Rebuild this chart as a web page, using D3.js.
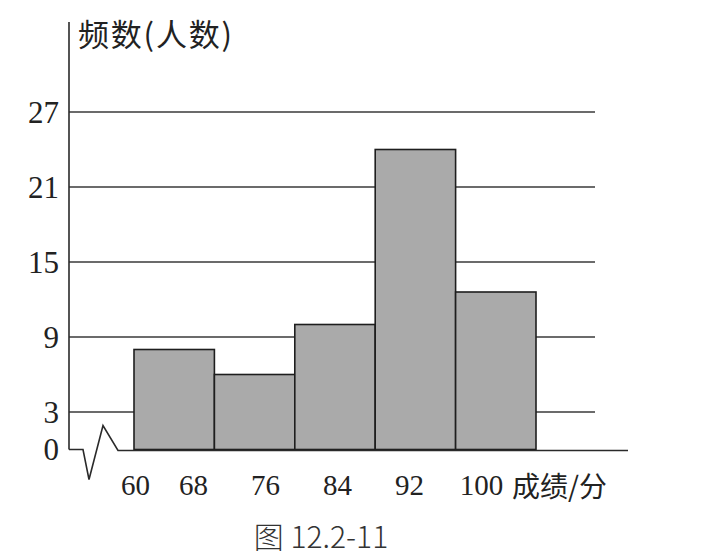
<!DOCTYPE html>
<html>
<head>
<meta charset="utf-8">
<script src="https://cdn.jsdelivr.net/npm/d3@7"></script>
<style>
  html, body { margin: 0; padding: 0; background: #fff; }
  svg { display: block; }
</style>
</head>
<body>
<svg id="chart" width="709" height="560"></svg>
<script>
// ---- data ----
const binEdges = [60, 68, 76, 84, 92, 100];
const frequencies = [8, 6, 10, 24, 12.6];
const yTicks = [0, 3, 9, 15, 21, 27];
const gridTicks = [3, 9, 15, 21, 27];
const xTickLabels = ["60", "68", "76", "84", "92", "100"];
const yTitle = "频数(人数)";
const xTitle = "成绩/分";
const caption = "图 12.2-11";

const bins = frequencies.map((f, i) => ({ x0: binEdges[i], x1: binEdges[i + 1], f }));

const svg = d3.select("#chart");
const ox = 69, oy = 449.5;

const x = d3.scaleLinear().domain([60, 100]).range([134, 536]);
const y = d3.scaleLinear().domain([0, 27]).range([oy, 112]);
// the printed labels sit slightly off the bar edges in the original figure
const xLab = d3.scaleLinear().domain([60, 68, 100]).range([135, 193, 481]);

const serif = "'Liberation Serif', 'DejaVu Serif', serif";
const cjk = "'Noto Sans CJK SC', sans-serif";
const ink = "#2a2a2a";

// gridlines
svg.append("g").selectAll("line").data(gridTicks).join("line")
  .attr("x1", ox).attr("x2", 595)
  .attr("y1", d => y(d)).attr("y2", d => y(d))
  .attr("stroke", "#3a3a3a").attr("stroke-width", 1.6);

// bars
svg.append("g").selectAll("rect").data(bins).join("rect")
  .attr("x", d => x(d.x0))
  .attr("y", d => y(d.f))
  .attr("width", d => x(d.x1) - x(d.x0))
  .attr("height", d => y(0) - y(d.f))
  .attr("fill", "#aaaaaa")
  .attr("stroke", "#1e1e1e").attr("stroke-width", 1.6);

// y axis line
svg.append("line")
  .attr("x1", ox).attr("x2", ox).attr("y1", 22).attr("y2", oy)
  .attr("stroke", ink).attr("stroke-width", 1.6);

// axis break + x axis baseline
const brk = d3.path();
brk.moveTo(ox, oy);
brk.lineTo(ox + 14, oy);
brk.lineTo(ox + 20, oy + 30);
brk.lineTo(ox + 34, oy - 24);
brk.lineTo(ox + 49, oy + 1);
brk.lineTo(628, oy + 1);
svg.append("path").attr("d", brk.toString())
  .attr("fill", "none").attr("stroke", ink).attr("stroke-width", 1.6)
  .attr("stroke-linejoin", "miter");

// y tick labels
svg.append("g").selectAll("text").data(yTicks).join("text")
  .attr("x", 59).attr("y", d => y(d))
  .attr("dy", "0.35em")
  .attr("text-anchor", "end")
  .attr("font-family", serif).attr("font-size", 31)
  .attr("fill", "#222")
  .text(d => d);

// x tick labels via axis on label scale
const xAxis = d3.axisBottom(xLab)
  .tickValues(binEdges)
  .tickFormat((d, i) => xTickLabels[i])
  .tickSize(0).tickPadding(0);
const gx = svg.append("g").attr("transform", `translate(0,${oy + 25})`).call(xAxis);
gx.select(".domain").remove();
gx.selectAll("text")
  .attr("font-family", serif).attr("font-size", 29)
  .attr("fill", "#222").attr("dy", "0.71em");

// titles
svg.append("text").attr("x", 78).attr("y", 46)
  .attr("font-family", cjk).attr("font-size", 31).attr("fill", "#222")
  .attr("textLength", 154).attr("lengthAdjust", "spacing")
  .text(yTitle);
svg.append("text").attr("x", 512).attr("y", 497)
  .attr("font-family", cjk).attr("font-size", 28).attr("fill", "#222")
  .text(xTitle);
svg.append("text").attr("x", 321).attr("y", 548)
  .attr("text-anchor", "middle")
  .attr("font-family", cjk).attr("font-size", 30).attr("font-weight", 300).attr("fill", "#333")
  .text(caption);
</script>
</body>
</html>
